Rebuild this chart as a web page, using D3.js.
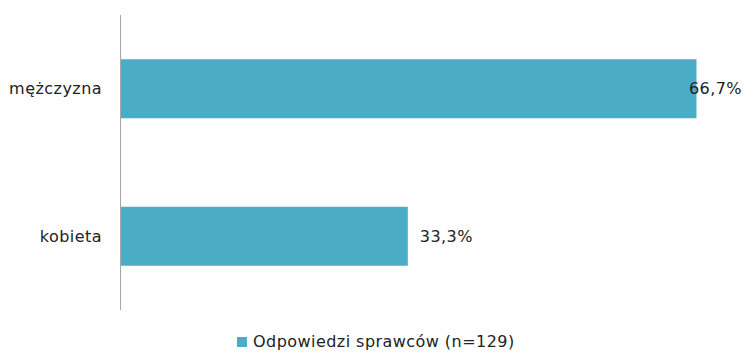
<!DOCTYPE html>
<html><head><meta charset="utf-8">
<script src="https://cdn.jsdelivr.net/npm/d3@7"></script>
<style>body{margin:0;background:#fff}svg{display:block}text{font-family:"DejaVu Sans",sans-serif;fill:#222;letter-spacing:0.45px}</style>
</head><body>
<script>
const categories = ["mężczyzna", "kobieta"];
const values = [66.7, 33.3];
const valueLabels = ["66,7%", "33,3%"];
const seriesName = "Odpowiedzi sprawców (n=129)";

const W = 746, H = 352;
const svg = d3.select("body").append("svg").attr("width", W).attr("height", H);
const x = d3.scaleLinear().domain([0, 70]).range([120, 725]);
const y = d3.scaleBand().domain(categories).range([15, 310]).paddingInner(0.6).paddingOuter(0.3);
const color = "#4BACC6";
const fs = "16px";

svg.selectAll("rect.bar").data(values).enter().append("rect")
  .attr("class", "bar")
  .attr("x", x(0)).attr("y", (d, i) => y(categories[i]))
  .attr("width", d => x(d) - x(0)).attr("height", y.bandwidth())
  .attr("fill", color);

svg.append("line").attr("x1", x(0) + 0.5).attr("x2", x(0) + 0.5).attr("y1", 15).attr("y2", 310)
  .attr("stroke", "#a6a6a6").attr("stroke-width", 1);

svg.selectAll("text.cat").data(categories).enter().append("text")
  .attr("class", "cat")
  .attr("x", 102).attr("y", d => y(d) + y.bandwidth() / 2)
  .attr("dy", "0.35em").attr("text-anchor", "end")
  .style("font-size", fs).text(d => d);

svg.selectAll("text.val").data(values).enter().append("text")
  .attr("class", "val")
  .attr("y", (d, i) => y(categories[i]) + y.bandwidth() / 2)
  .attr("dy", "0.35em").style("font-size", fs)
  .text((d, i) => valueLabels[i])
  .attr("x", function(d) {
    const w = this.getComputedTextLength();
    return Math.min(x(d) + 12, W - 4 - w);
  });

const lg = svg.append("g");
lg.append("rect").attr("x", 237).attr("y", 337).attr("width", 10).attr("height", 10).attr("fill", color);
lg.append("text").attr("x", 253).attr("y", 341).attr("dy", "0.35em").style("font-size", fs).text(seriesName);
</script>
</body></html>
